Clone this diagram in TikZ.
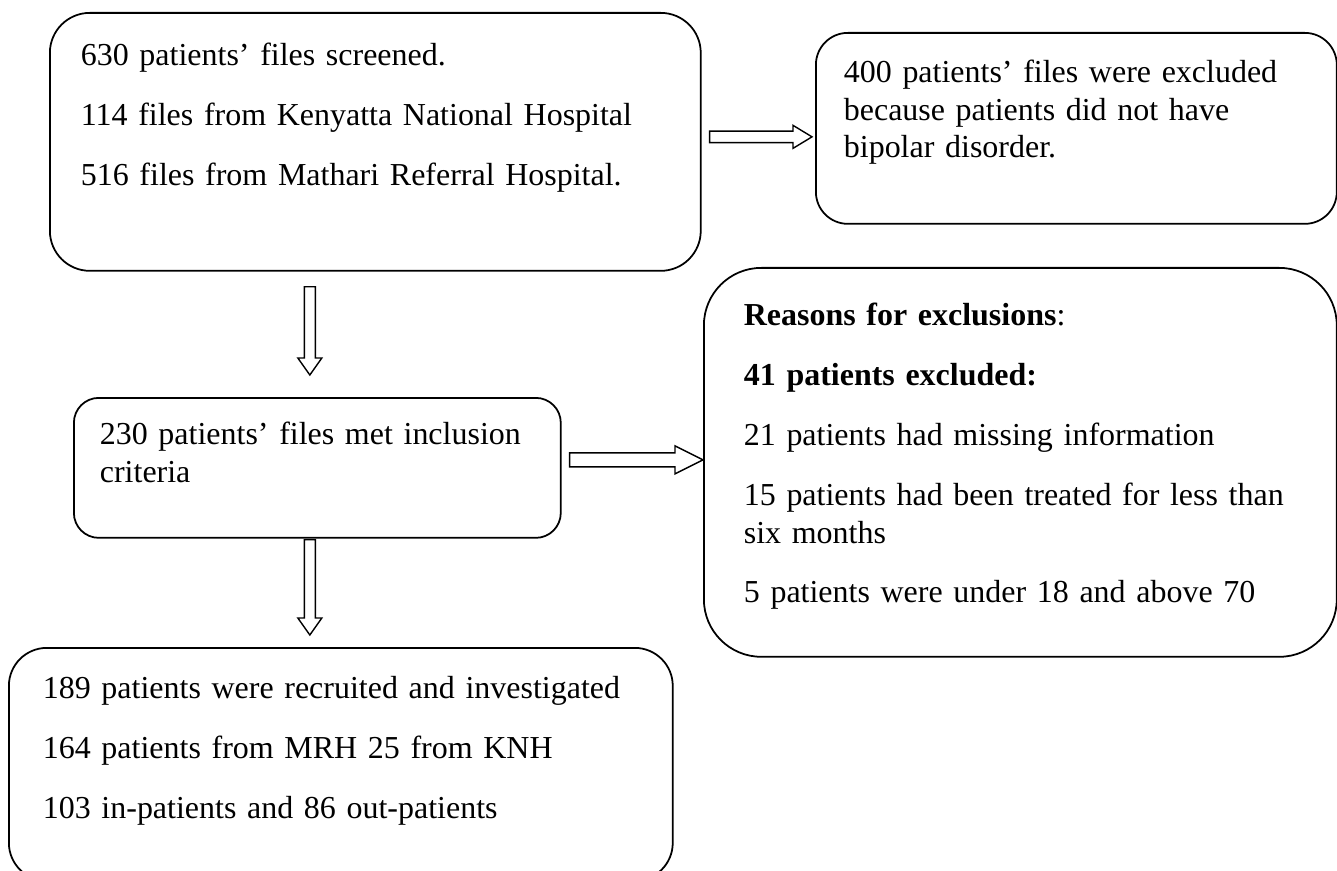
\documentclass[tikz,border=0pt]{standalone}
\usepackage{fontspec}
\setmainfont{Liberation Serif}
\usetikzlibrary{calc,positioning}
\tikzset{
  stage/.style={draw,line width=1pt,anchor=north west,align=left,inner ysep=0pt,
    font=\fontsize{18.2pt}{21.3pt}\selectfont},
  downarrow/.style={draw,line width=0.8pt,to path={let \p1=(\tikztostart),\p2=(\tikztotarget) in
    (\x1-0.11cm,\y1) -- (\x1-0.11cm,\y2+0.34cm) -- (\x1-0.24cm,\y2+0.34cm) -- (\x1,\y2)
    -- (\x1+0.24cm,\y2+0.34cm) -- (\x1+0.11cm,\y2+0.34cm) -- (\x1+0.11cm,\y1) -- cycle}},
  rightarrow/.style 2 args={draw,line width=0.8pt,to path={let \p1=(\tikztostart),\p2=(\tikztotarget) in
    (\x1,\y1-#1/2) -- (\x2-#2,\y1-#1/2) -- (\x2-#2,\y1-#1) -- (\x2,\y1)
    -- (\x2-#2,\y1+#1) -- (\x2-#2,\y1+#1/2) -- (\x1,\y1+#1/2) -- cycle}}
}
\begin{document}
\begin{tikzpicture}[x=0.02cm,y=-0.02cm]
    \useasboundingbox (0,0) rectangle (1337,871);

    \node at (49,12) [stage,rounded corners=0.8cm,inner xsep=0.62cm,text width=11.78cm,
      text height=1.06cm,text depth=4.1cm] (scr) {630 patients’ files screened.\\[0.45cm]
      114 files from Kenyatta National Hospital\\[0.45cm]
      516 files from Mathari Referral Hospital.};
    \node at (815,32) [stage,rounded corners=0.64cm,inner xsep=0.56cm,text width=9.3cm,
      text height=1cm,text depth=2.82cm] (excl) {400 patients’ files were excluded\\
      because patients did not have\\ bipolar disorder.};
    \node at (703,267) [stage,rounded corners=1.15cm,inner xsep=0.8cm,text width=11.06cm,
      text height=1.16cm,text depth=6.62cm] (reas) {\textbf{Reasons for exclusions}:\\[0.45cm]
      \textbf{41 patients excluded:}\\[0.45cm]
      21 patients had missing information\\[0.45cm]
      15 patients had been treated for less than\\ six months\\[0.45cm]
      5 patients were under 18 and above 70};
    \node at (73,397) [stage,rounded corners=0.5cm,inner xsep=0.52cm,text width=8.7cm,
      text height=0.94cm,text depth=1.86cm] (incl) {230 patients’ files met inclusion\\ criteria};
    \node at (8,647) [stage,rounded corners=0.76cm,inner xsep=0.68cm,text width=11.92cm,
      text height=1.02cm,text depth=3.64cm] (fin) {189 patients were recruited and investigated\\[0.45cm]
      164 patients from MRH 25 from KNH\\[0.45cm]
      103 in-patients and 86 out-patients};

    % block arrows
    \draw[rightarrow={0.23cm}{0.38cm}] ($(scr.east)+(8,-5)$) to ($(scr.east -| excl.west)+(-3,-5)$);
    \draw[rightarrow={0.28cm}{0.56cm}] ($(incl.east)+(8,-8)$) to ($(incl.east -| reas.west)+(0,-8)$);
    \draw[downarrow] ($(incl.north |- scr.south)+(-7.5,15)$) to ($(incl.north)+(-7.5,-22)$);
    \draw[downarrow] ($(incl.south)+(-7.5,1)$) to ($(incl.south |- fin.north)+(-7.5,-12)$);
\end{tikzpicture}
\end{document}
